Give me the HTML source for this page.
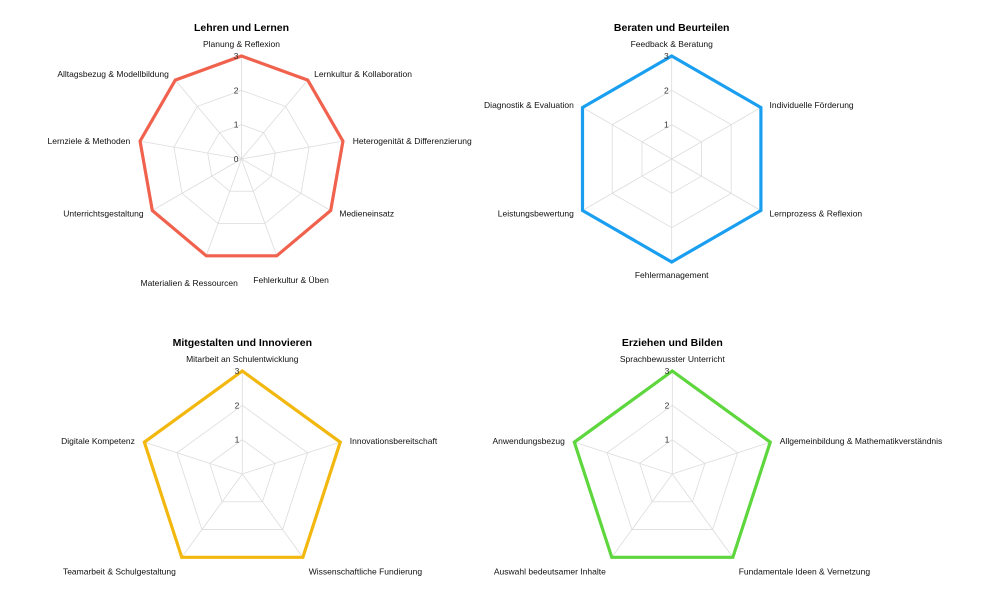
<!DOCTYPE html>
<html><head><meta charset="utf-8"><style>
html,body{margin:0;padding:0;background:#fff;}
svg{display:block;font-family:"Liberation Sans",Helvetica,Arial,sans-serif;}
</style></head><body>
<svg id="chart" width="1000" height="614" viewBox="0 0 1000 614" xmlns="http://www.w3.org/2000/svg"></svg>
<script>
const titles = ["Lehren und Lernen","Beraten und Beurteilen","Mitgestalten und Innovieren","Erziehen und Bilden"];
const categories1 = ["Planung & Reflexion","Lernkultur & Kollaboration","Heterogenität & Differenzierung","Medieneinsatz","Fehlerkultur & Üben","Materialien & Ressourcen","Unterrichtsgestaltung","Lernziele & Methoden","Alltagsbezug & Modellbildung"];
const values1 = [3,3,3,3,3,3,3,3,3];
const categories2 = ["Feedback & Beratung","Individuelle Förderung","Lernprozess & Reflexion","Fehlermanagement","Leistungsbewertung","Diagnostik & Evaluation"];
const values2 = [3,3,3,3,3,3];
const categories3 = ["Mitarbeit an Schulentwicklung","Innovationsbereitschaft","Wissenschaftliche Fundierung","Teamarbeit & Schulgestaltung","Digitale Kompetenz"];
const values3 = [3,3,3,3,3];
const categories4 = ["Sprachbewusster Unterricht","Allgemeinbildung & Mathematikverständnis","Fundamentale Ideen & Vernetzung","Auswahl bedeutsamer Inhalte","Anwendungsbezug"];
const values4 = [3,3,3,3,3];
const tickValues = [1,2,3];
const maxValue = 3;

const svg = document.getElementById('chart');
const NS = 'http://www.w3.org/2000/svg';
function mk(tag, attrs){ const e=document.createElementNS(NS,tag); for(const k in attrs) e.setAttribute(k,attrs[k]); return e; }

const configs = [
  {cx:241.5, cy:159, cats:categories1, vals:values1, color:'#f0624d', title:titles[0], zero:true, special:{4:[145,'middle',27],5:[153,'middle',30]}},
  {cx:671.7, cy:159, cats:categories2, vals:values2, color:'#1a9ff0', title:titles[1], zero:false, special:{}},
  {cx:242.3, cy:474, cats:categories3, vals:values3, color:'#f2b80f', title:titles[2], zero:false, special:{}},
  {cx:672.3, cy:474, cats:categories4, vals:values4, color:'#5ed63e', title:titles[3], zero:false, special:{}}
];
const R = 103;

configs.forEach((c, ci) => {
  const g = mk('g', {});
  
  
  svg.appendChild(g);
  const n = c.cats.length;
  const ang = i => i * 2 * Math.PI / n;
  const rScale = v => v / maxValue * R;
  const pt = (i, r) => [c.cx + r*Math.sin(ang(i)), c.cy - r*Math.cos(ang(i))];

  tickValues.forEach(t => {
    const pts = c.cats.map((_, i) => pt(i, rScale(t)).join(',')).join(' ');
    const ring = mk('polygon', {points:pts, fill:'none', stroke:'#dcdcdc', 'stroke-width':0.8});
    
    
    g.appendChild(ring);
  });
  c.cats.forEach((_, i) => {
    const p = pt(i, R);
    const sp = mk('line', {x1:c.cx, y1:c.cy, x2:p[0], y2:p[1], stroke:'#dcdcdc', 'stroke-width':0.8});
    
    
    g.appendChild(sp);
  });
  const dpts = c.vals.map((v, i) => pt(i, rScale(v)).join(',')).join(' ');
  const poly = mk('polygon', {points:dpts, fill:'none', stroke:c.color, 'stroke-width':3.2, 'stroke-linejoin':'miter'});
  
  
  g.appendChild(poly);
  const ticks = c.zero ? [0].concat(tickValues) : tickValues;
  ticks.forEach(t => {
    const tx = mk('text', {x:c.cx-3, y:c.cy - rScale(t) + 3, 'text-anchor':'end', 'font-size':8.5, fill:'#333'});
    tx.textContent = t;
    
    
    g.appendChild(tx);
  });
  c.cats.forEach((name, i) => {
    const s = Math.sin(ang(i)), co = Math.cos(ang(i));
    let dist = R + 10, anchor, off;
    if (Math.abs(s) < 0.1) anchor = 'middle'; else anchor = s > 0 ? 'start' : 'end';
    if (co > 0.95) off = -9;
    else if (co < -0.95) off = 16;
    else if (co >= 0) off = 3 - 10*co*co;
    else if (co < -0.7) off = 17;
    else off = 3 + 6*(-co);
    if (c.special[i]) { dist = c.special[i][0]; anchor = c.special[i][1]; off = c.special[i][2]; }
    const x = c.cx + dist*s, y = c.cy - R*co + off;
    const tx = mk('text', {x:x, y:y, 'text-anchor':anchor, 'font-size':8.5, fill:'#111'});
    tx.textContent = name;
    
    
    g.appendChild(tx);
  });
  const tt = mk('text', {x:c.cx, y:c.cy - R - 25, 'text-anchor':'middle', 'font-size':10.5, 'font-weight':'bold', fill:'#000'});
  tt.textContent = c.title;
  
  
  g.appendChild(tt);
});
</script>
</body></html>
